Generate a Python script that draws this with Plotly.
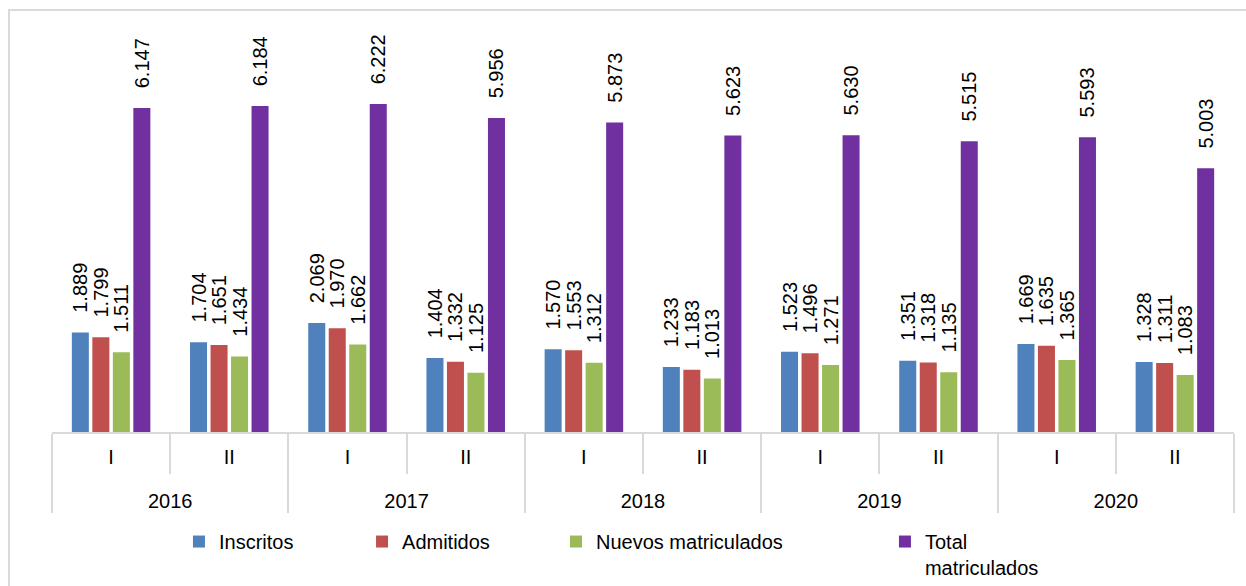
import plotly.graph_objects as go

years = ["2016", "2016", "2017", "2017", "2018", "2018", "2019", "2019", "2020", "2020"]
semesters = ["I", "II", "I", "II", "I", "II", "I", "II", "I", "II"]

inscritos = [1889, 1704, 2069, 1404, 1570, 1233, 1523, 1351, 1669, 1328]
admitidos = [1799, 1651, 1970, 1332, 1553, 1183, 1496, 1318, 1635, 1311]
nuevos = [1511, 1434, 1662, 1125, 1312, 1013, 1271, 1135, 1365, 1083]
total = [6147, 6184, 6222, 5956, 5873, 5623, 5630, 5515, 5593, 5003]

series_names = ["Inscritos", "Admitidos", "Nuevos matriculados", "Total<br>matriculados"]
series_values = [inscritos, admitidos, nuevos, total]
colors = ["#4F81BD", "#C0504D", "#9BBB59", "#7030A0"]
legend_ids = ["legend", "legend2", "legend3", "legend4"]
legend_x = [0.1074, 0.2623, 0.4264, 0.7047]
pad = "\u00a0\u00a0\u00a0"

# year row is pushed one line down (leading line break) to sit below the semester row
year_labels = ["<br>" + y for y in years]

FONT = "Liberation Sans, Arial, sans-serif"

fig = go.Figure()
for name, vals, col, lid in zip(series_names, series_values, colors, legend_ids):
    fig.add_trace(go.Bar(
        x=[year_labels, semesters], y=vals, name=name,
        marker=dict(color=col, line=dict(width=0)),
        texttemplate=pad + "%{y:,.0f}",
        textposition="outside", textangle=-90, constraintext="none",
        cliponaxis=False,
        textfont=dict(family=FONT, size=20, color="#000000"),
        legend=lid,
    ))

legend_common = dict(orientation="h", yanchor="top", y=-0.244, xanchor="left",
                     valign="top", bgcolor="rgba(0,0,0,0)",
                     font=dict(family=FONT, size=20, color="#000000"))
layout_legends = {}
for lid, lx in zip(legend_ids, legend_x):
    layout_legends[lid] = dict(legend_common, x=lx)

fig.update_layout(
    width=1246, height=586,
    margin=dict(l=52, r=12, t=63, b=154, autoexpand=False),
    paper_bgcolor="white", plot_bgcolor="white",
    separators=",.",
    barmode="group", bargap=0.306, bargroupgap=0.17,
    font=dict(family=FONT, size=20, color="#000000"),
    showlegend=True,
    **layout_legends,
)
fig.update_xaxes(
    type="multicategory", automargin=False,
    showline=True, linecolor="#d9d9d9", linewidth=2,
    ticks="outside", tickson="boundaries", ticklen=40, tickcolor="#d9d9d9", tickwidth=2,
    ticklabelstandoff=6,
    showdividers=True, dividercolor="#d9d9d9", dividerwidth=2,
    tickfont=dict(family=FONT, size=20, color="#000000"),
    showgrid=False,
)
fig.update_yaxes(range=[0, 7000], visible=False, showgrid=False)

fig.add_shape(type="rect", xref="paper", yref="paper",
              x0=-0.0364, x1=1.2, y0=-1.0, y1=1.1436,
              line=dict(color="#d9d9d9", width=2), fillcolor="rgba(0,0,0,0)", layer="below")

fig.write_html("out.html", config={"displayModeBar": False},
               post_script="document.body.style.margin='0';")
